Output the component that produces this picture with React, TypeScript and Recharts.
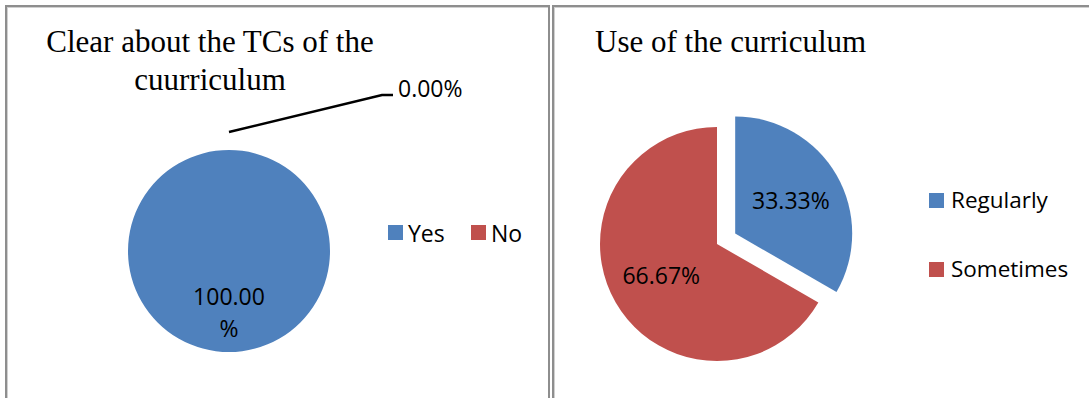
import React from 'react'
import { PieChart, Pie, Cell, Legend } from 'recharts'

// left chart: "Clear about the TCs of the curriculum"
const clarityLabels = ['Yes', 'No']
const clarityValues = [100, 0]

// right chart: "Use of the curriculum"
const usageLabels = ['Regularly', 'Sometimes']
const usageValues = [33.33, 66.67]

const sliceColors = ['#4F81BD', '#C0504D']

const SANS = '"Open Sans", "Noto Sans", sans-serif'
const SERIF = '"Liberation Serif", "Times New Roman", serif'
const RAD = Math.PI / 180

const clarityData = clarityLabels.map((name, i) => ({ name, value: clarityValues[i] }))
const usageData = usageLabels.map((name, i) => ({ name, value: usageValues[i] }))

// exploded "Regularly" slice: push it out along its mid angle
const usageTotal = usageValues.reduce((a, b) => a + b, 0)
const explodeMid = 90 - (360 * usageValues[0]) / usageTotal / 2
const EXPLODE = 21
const USAGE_CX = 167
const USAGE_CY = 244
const explodeCx = USAGE_CX + EXPLODE * Math.cos(explodeMid * RAD)
const explodeCy = USAGE_CY - EXPLODE * Math.sin(explodeMid * RAD)

const polar = (cx: number, cy: number, r: number, angle: number) => ({
  x: cx + r * Math.cos(-angle * RAD),
  y: cy + r * Math.sin(-angle * RAD),
})

const renderClarityLabel = (props: any) => {
  const { cx, cy, midAngle, outerRadius, percent } = props
  const pct = (percent * 100).toFixed(2)
  if (percent < 0.05) {
    // tiny slice -> label outside with a leader line
    const p0 = polar(cx, cy, outerRadius + 18, midAngle)
    const x1 = p0.x + 153
    const y1 = p0.y - 37
    const x2 = x1 + 11
    return (
      <g>
        <polyline
          points={`${p0.x},${p0.y} ${x1},${y1} ${x2},${y1}`}
          fill="none"
          stroke="#000"
          strokeWidth={2.5}
        />
        <text x={x2 + 5} y={y1 + 2} fontFamily={SANS} fontSize={23} fill="#000" textAnchor="start">
          {pct}%
        </text>
      </g>
    )
  }
  const p = polar(cx, cy, outerRadius * 0.62, midAngle)
  return (
    <text x={p.x} y={p.y} fontFamily={SANS} fontSize={23} fill="#000" textAnchor="middle">
      <tspan x={p.x} dy={-9}>{pct}</tspan>
      <tspan x={p.x} dy={32}>%</tspan>
    </text>
  )
}

const usageLabel = (showIndex: number) => (props: any) => {
  const { cx, cy, midAngle, outerRadius, percent, index } = props
  if (index !== showIndex) return null
  const p = polar(cx, cy, outerRadius * 0.55, midAngle)
  return (
    <text x={p.x} y={p.y + 8} fontFamily={SANS} fontSize={23} fill="#000" textAnchor="middle">
      {(percent * 100).toFixed(2)}%
    </text>
  )
}

const ClarityLegend = () => (
  <svg width={160} height={40} style={{ display: 'block' }}>
    {clarityLabels.map((name, i) => (
      <g key={name} transform={`translate(${i * 83},0)`}>
        <rect x={8} y={10} width={15} height={15} fill={sliceColors[i]} />
        <text x={28} y={27} fontFamily={SANS} fontSize={23} fill="#000">
          {name}
        </text>
      </g>
    ))}
  </svg>
)

const UsageLegend = () => (
  <svg width={165} height={110} style={{ display: 'block' }}>
    {usageLabels.map((name, i) => (
      <g key={name} transform={`translate(0,${i * 69})`}>
        <rect x={9} y={8} width={15} height={15} fill={sliceColors[i]} />
        <text x={31} y={23} fontFamily={SANS} fontSize={22.5} fill="#000">
          {name}
        </text>
      </g>
    ))}
  </svg>
)

const panelStyle: React.CSSProperties = {
  position: 'absolute',
  top: 5,
  height: 420,
  boxSizing: 'border-box',
  borderLeft: '2px solid #8e8e8e',
  borderTop: '2px solid #8e8e8e',
  borderRight: '2px solid #8e8e8e',
  boxShadow: 'inset 1px 1px 0 #d0d0d0',
}

export default function App() {
  return (
    <div
      style={{
        position: 'absolute',
        left: 0,
        top: 0,
        width: 1089,
        height: 398,
        overflow: 'hidden',
        background: '#fff',
      }}
    >
      <div style={{ ...panelStyle, left: 5, width: 545 }} />
      <div style={{ ...panelStyle, left: 552, width: 560 }} />

      <svg width={1089} height={100} style={{ position: 'absolute', left: 0, top: 0 }}>
        <text x={210} y={52} textAnchor="middle" fontFamily={SERIF} fontSize={31} fill="#000">
          Clear about the TCs of the
        </text>
        <text x={210} y={90} textAnchor="middle" fontFamily={SERIF} fontSize={31} fill="#000">
          cuurriculum
        </text>
        <text x={595} y={52} fontFamily={SERIF} fontSize={31} fill="#000">
          Use of the curriculum
        </text>
      </svg>

      <div style={{ position: 'absolute', left: 0, top: 0 }}>
        <PieChart width={550} height={398} margin={{ top: 0, right: 0, bottom: 0, left: 0 }}>
          <Pie
            data={clarityData}
            dataKey="value"
            nameKey="name"
            cx={229}
            cy={251}
            outerRadius={101}
            startAngle={90}
            endAngle={-270}
            stroke="none"
            label={renderClarityLabel}
            labelLine={false}
            isAnimationActive={false}
          >
            {clarityData.map((d, i) => (
              <Cell key={d.name} fill={sliceColors[i]} />
            ))}
          </Pie>
          <Legend
            layout="vertical"
            align="right"
            verticalAlign="middle"
            content={() => <ClarityLegend />}
            wrapperStyle={{ left: 380, top: 215, width: 160, height: 40 }}
          />
        </PieChart>
      </div>

      <div style={{ position: 'absolute', left: 550, top: 0 }}>
        <PieChart width={539} height={398} margin={{ top: 0, right: 0, bottom: 0, left: 0 }}>
          <Pie
            data={usageData}
            dataKey="value"
            nameKey="name"
            cx={USAGE_CX}
            cy={USAGE_CY}
            outerRadius={117}
            startAngle={90}
            endAngle={-270}
            stroke="none"
            label={usageLabel(1)}
            labelLine={false}
            isAnimationActive={false}
          >
            {usageData.map((d, i) => (
              <Cell key={d.name} fill={i === 1 ? sliceColors[i] : 'none'} />
            ))}
          </Pie>
          <Pie
            data={usageData}
            dataKey="value"
            nameKey="name"
            cx={explodeCx}
            cy={explodeCy}
            outerRadius={117}
            startAngle={90}
            endAngle={-270}
            stroke="none"
            label={usageLabel(0)}
            labelLine={false}
            isAnimationActive={false}
          >
            {usageData.map((d, i) => (
              <Cell key={d.name} fill={i === 0 ? sliceColors[i] : 'none'} />
            ))}
          </Pie>
          <Legend
            layout="vertical"
            align="right"
            verticalAlign="middle"
            content={() => <UsageLegend />}
            wrapperStyle={{ left: 370, top: 185, width: 165, height: 110 }}
          />
        </PieChart>
      </div>
    </div>
  )
}
